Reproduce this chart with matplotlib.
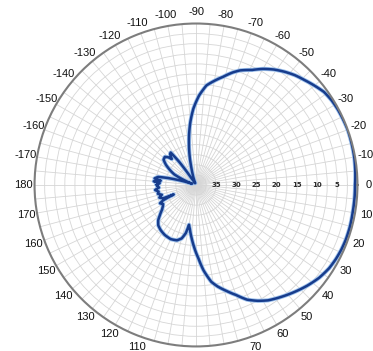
import numpy as np
import matplotlib.pyplot as plt

# pattern: angle (deg, clockwise from right) and dB below peak
angles = [-180, -177, -175, -173, -171, -168, -166, -164, -162, -158, -154,
          -150, -146, -142, -138, -135, -133, -130, -128, -126, -124, -120,
          -112, -107, -105, -103, -100, -98, -95, -92, -88, -84, -80, -76, -72,
          -69, -64, -60, -56, -52, -48, -44, -40, -36, -32, -28, -24, -20, -15,
          -10, -5, 0, 5, 10, 15, 20, 24, 28, 32, 37, 42, 47, 52, 58, 62, 66, 70,
          74, 78, 81, 85, 88, 92, 95, 98, 100, 102, 105, 109, 115, 122, 128,
          133, 137, 140, 144, 147, 150, 153, 155, 157, 158, 161, 164, 167, 170,
          173, 176, 180]
atten = [30.3, 31.0, 29.5, 31.2, 29.6, 30.4, 33.0, 36.0, 39.0, 37.0, 34.0,
         32.5, 31.0, 29.8, 29.6, 30.3, 31.2, 30.0, 29.8, 33.0, 38.0, 39.5,
         39.5, 37.0, 35.5, 33.3, 30.0, 27.6, 24.2, 21.1, 17.8, 15.2, 13.8, 12.4,
         10.7, 9.6, 8.3, 6.8, 5.5, 4.4, 3.4, 2.6, 1.7, 0.8, 0.4, 0.2, 0.1, 0.0,
         0.1, 0.2, 0.4, 0.6, 0.6, 0.6, 0.5, 0.5, 0.6, 0.8, 1.1, 1.8, 2.8, 3.9,
         5.0, 6.3, 7.5, 8.9, 11.0, 12.7, 14.3, 15.7, 18.8, 21.7, 24.8, 27.0,
         29.0, 30.0, 27.8, 26.3, 25.5, 25.2, 25.4, 25.8, 26.3, 27.2, 28.3, 29.6,
         30.2, 30.6, 30.0, 31.0, 34.0, 31.2, 30.4, 31.2, 30.3, 30.6, 29.8, 30.8,
         30.3]

ring_labels = [35, 30, 25, 20, 15, 10, 5]
rings = np.arange(2.5, 40, 2.5)
spokes = np.arange(0, 360, 5)
# 80, 90 and 100 sit below the bottom edge of the original picture
hidden = (80, 90, 100)
spoke_labels = [(str(a if a <= 180 else a - 360) if a % 10 == 0 and a not in hidden else '')
                for a in spokes]

fig = plt.figure(figsize=(3.73, 3.51), dpi=100)
ax = fig.add_axes([0.0925, 0.0130, 0.866, 0.920], projection='polar')
ax.set_theta_zero_location('E')
ax.set_theta_direction(-1)
ax.set_ylim(40, 0)

ax.set_thetagrids(spokes, spoke_labels, fontsize=8, family='Liberation Sans', color='#111111')
ax.tick_params(axis='x', pad=-2.5)
ax.set_yticks(rings)
ax.set_yticklabels([])
ax.grid(color='#d6d6d6', lw=0.6)
ax.spines['polar'].set_color('#7d7d7d')
ax.spines['polar'].set_linewidth(1.5)

for v in ring_labels:
    ax.text(0, v, str(v), ha='center', va='center', fontsize=5,
            fontweight='bold', color='#2a2a2a')

th = np.deg2rad(angles)
halo, = ax.plot(th, atten, color='#9cc0ec', lw=3.0, solid_joinstyle='round')
line, = ax.plot(th, atten, color='#173c8c', lw=1.8, solid_joinstyle='round')
# let each segment follow the polar arc instead of a straight chord
for ln in (halo, line):
    ln.get_path()._interpolation_steps = 12

fig.savefig('out.png', dpi=100, facecolor='white')
